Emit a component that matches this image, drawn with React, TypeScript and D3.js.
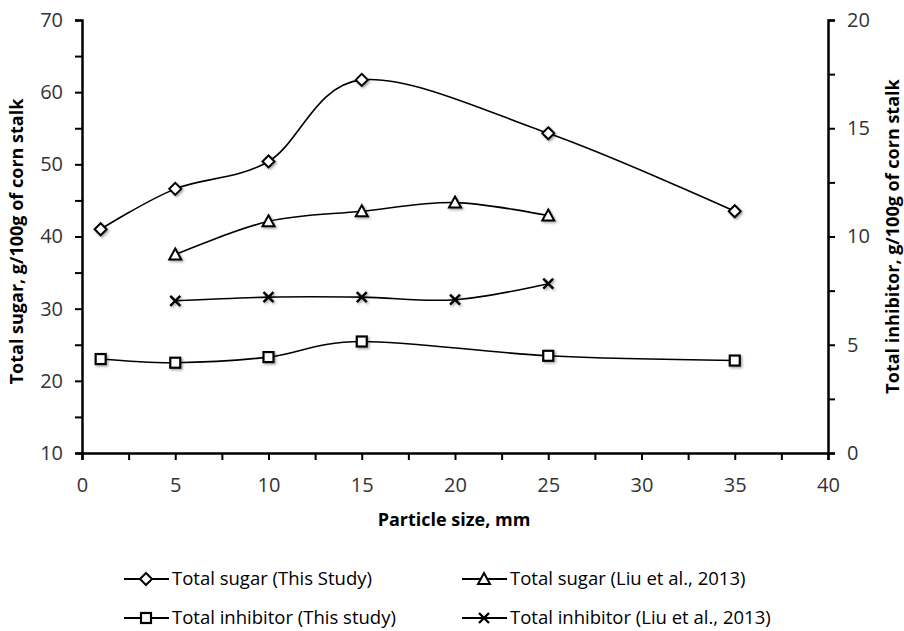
import * as d3 from "d3";
import React, { useRef, useEffect } from "react";

// particle size, mm
const sizeThisStudy = [1, 5, 10, 15, 25, 35];
const sizeLiu = [5, 10, 15, 20, 25];

// left axis: total sugar, g/100g
const sugarThisStudy = [41.0, 46.6, 50.4, 61.7, 54.3, 43.5];
const sugarLiu = [37.5, 42.1, 43.5, 44.7, 42.9];

// right axis: total inhibitor, g/100g
const inhibitorThisStudy = [4.34, 4.17, 4.43, 5.15, 4.49, 4.27];
const inhibitorLiu = [7.03, 7.2, 7.2, 7.08, 7.82];

const leftTicks = [10, 20, 30, 40, 50, 60, 70];
const rightTicks = [0, 5, 10, 15, 20];
const xTicks = [0, 5, 10, 15, 20, 25, 30, 35, 40];

const legendLabels = [
  "Total sugar (This Study)",
  "Total sugar (Liu et al., 2013)",
  "Total inhibitor (This study)",
  "Total inhibitor (Liu et al., 2013)",
];

const FONT = "'Open Sans', sans-serif";

const App = () => {
  const ref = useRef(null);

  useEffect(() => {
    if (!ref.current) return;
    const svg = d3.select(ref.current);
    svg.selectAll("*").remove();

    const left = 82, right = 828, top = 20, bottom = 453;

    const x = d3.scaleLinear().domain([0, 40]).range([left, right]);
    const yL = d3.scaleLinear().domain([10, 70]).range([bottom, top]);
    const yR = d3.scaleLinear().domain([0, 20]).range([bottom, top]);

    const defs = svg.append("defs");
    const f = defs.append("filter").attr("id", "shadow")
      .attr("x", "-50%").attr("y", "-50%").attr("width", "200%").attr("height", "200%");
    f.append("feDropShadow").attr("dx", 1.5).attr("dy", 1.5)
      .attr("stdDeviation", 1.2).attr("flood-color", "#000").attr("flood-opacity", 0.35);

    // axes
    const axisL = svg.append("g").attr("transform", `translate(${left},0)`)
      .call(d3.axisLeft(yL).tickValues(d3.range(10, 71, 5)).tickSizeOuter(0).tickSize(7)
        .tickFormat((d) => (leftTicks.includes(d) ? d : "")));
    const axisR = svg.append("g").attr("transform", `translate(${right},0)`)
      .call(d3.axisRight(yR).tickValues(d3.range(0, 20.1, 2.5)).tickSizeOuter(0).tickSize(7)
        .tickFormat((d) => (rightTicks.includes(d) ? d : "")));
    const axisB = svg.append("g").attr("transform", `translate(0,${bottom})`)
      .call(d3.axisBottom(x).tickValues(d3.range(0, 40.1, 2.5)).tickSizeOuter(0).tickSize(7)
        .tickFormat((d) => (xTicks.includes(d) ? d : "")));

    [axisL, axisR, axisB].forEach((a) => {
      a.select(".domain").attr("stroke", "#000").attr("stroke-width", 2.5);
      a.selectAll(".tick line").attr("stroke", "#000").attr("stroke-width", 2);
      a.selectAll("text").attr("fill", "#333").style("font-family", FONT).style("font-size", "20px");
    });
    axisL.selectAll("text").attr("x", -19);
    axisR.selectAll("text").attr("x", 19);
    axisB.selectAll("text").attr("y", 39).attr("dy", "0");

    // axis titles
    const titleStyle = (t) =>
      t.style("font-family", FONT).style("font-size", "18px").style("font-weight", "bold")
        .attr("text-anchor", "middle").attr("dy", "0.35em");
    svg.append("text")
      .attr("transform", `translate(17,${(top + bottom) / 2 + 5}) rotate(-90)`)
      .call(titleStyle)
      .text("Total sugar, g/100g of corn stalk");
    svg.append("text")
      .attr("transform", `translate(893,${(top + bottom) / 2}) rotate(-90)`)
      .call(titleStyle)
      .text("Total inhibitor, g/100g of corn stalk");
    svg.append("text")
      .attr("x", 454).attr("y", 520)
      .call(titleStyle)
      .text("Particle size, mm");

    const series = [
      { xs: sizeThisStudy, ys: sugarThisStudy, y: yL, marker: "diamond" },
      { xs: sizeLiu, ys: sugarLiu, y: yL, marker: "triangle" },
      { xs: sizeThisStudy, ys: inhibitorThisStudy, y: yR, marker: "square" },
      { xs: sizeLiu, ys: inhibitorLiu, y: yR, marker: "cross" },
    ];

    const drawMarker = (g, type, cx, cy) => {
      if (type === "diamond") {
        g.append("path").attr("d", `M${cx},${cy - 6}L${cx + 6},${cy}L${cx},${cy + 6}L${cx - 6},${cy}Z`)
          .attr("fill", "#fff").attr("stroke", "#000").attr("stroke-width", 2);
      } else if (type === "triangle") {
        g.append("path").attr("d", `M${cx},${cy - 6}L${cx + 6},${cy + 5}L${cx - 6},${cy + 5}Z`)
          .attr("fill", "#fff").attr("stroke", "#000").attr("stroke-width", 2);
      } else if (type === "square") {
        g.append("rect").attr("x", cx - 5).attr("y", cy - 5).attr("width", 10).attr("height", 10)
          .attr("fill", "#fff").attr("stroke", "#000").attr("stroke-width", 2.2);
      } else {
        g.append("path").attr("d", `M${cx - 5},${cy - 5}L${cx + 5},${cy + 5}M${cx + 5},${cy - 5}L${cx - 5},${cy + 5}`)
          .attr("stroke", "#000").attr("stroke-width", 2.4);
      }
    };

    series.forEach((s) => {
      const pts = s.xs.map((v, i) => [x(v), s.y(s.ys[i])]);
      const line = d3.line().curve(d3.curveCardinal.tension(0));
      svg.append("path").attr("d", line(pts))
        .attr("fill", "none").attr("stroke", "#000").attr("stroke-width", 1.6);
      const g = svg.append("g").attr("filter", "url(#shadow)");
      pts.forEach(([cx, cy]) => drawMarker(g, s.marker, cx, cy));
    });

    // legend
    const legendPos = [[124, 579], [462, 579], [124, 618], [462, 618]];
    series.forEach((s, i) => {
      const [lx, ly] = legendPos[i];
      const g = svg.append("g");
      g.append("line").attr("x1", lx).attr("x2", lx + 45).attr("y1", ly).attr("y2", ly)
        .attr("stroke", "#000").attr("stroke-width", 2);
      drawMarker(g, s.marker, lx + 22, ly);
      g.append("text").attr("x", lx + 48).attr("y", ly).attr("dy", "0.35em")
        .attr("fill", "#000")
        .style("font-family", FONT).style("font-size", "18.5px")
        .text(legendLabels[i]);
    });
  }, []);

  return (
    <svg
      ref={ref}
      width={904}
      height={631}
      style={{ position: "absolute", left: 0, top: 0, background: "#fff" }}
    />
  );
};

export default App;
